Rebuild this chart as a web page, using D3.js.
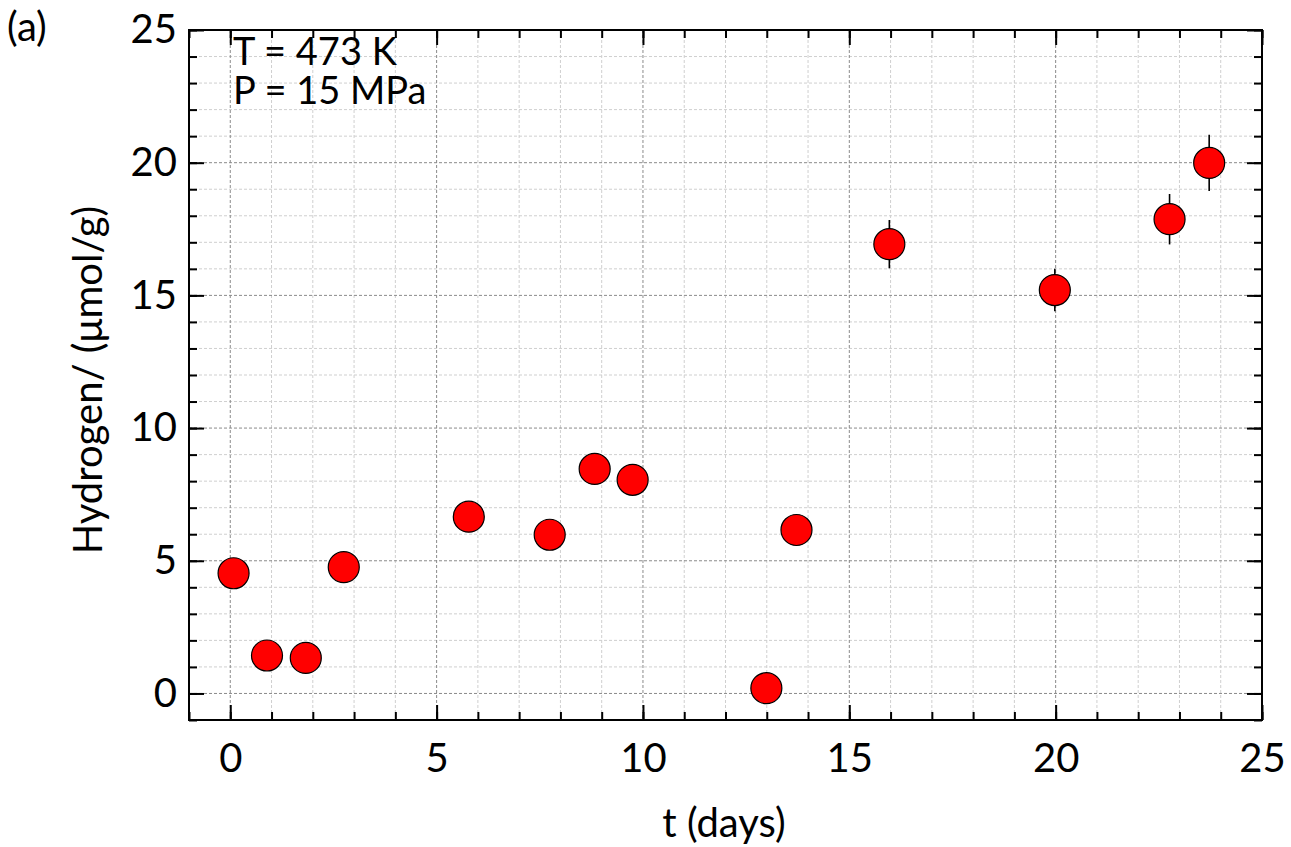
<!DOCTYPE html>
<html>
<head>
<meta charset="utf-8">
<script src="https://cdn.jsdelivr.net/npm/d3@7"></script>
<style>
  body { margin: 0; background: #fff; }
  text { font-family: Lato, "Open Sans", sans-serif; fill: #000; }
</style>
</head>
<body>
<div class="chart"></div>
<script>
// values
var days     = [0.08, 0.89, 1.83, 2.75, 5.78, 7.74, 8.83, 9.75, 12.99, 13.72, 15.97, 19.98, 22.76, 23.72];
var hydrogen = [4.53, 1.43, 1.34, 4.76, 6.66, 5.98, 8.46, 8.05, 0.20, 6.16, 16.93, 15.20, 17.87, 19.99];
var errors   = [0, 0, 0, 0, 0, 0, 0, 0, 0, 0, 0.91, 0.80, 0.95, 1.06];

var xTicks = [0, 5, 10, 15, 20, 25];
var yTicks = [0, 5, 10, 15, 20, 25];
var xMinor = d3.range(-1, 26, 1);
var yMinor = d3.range(-1, 26, 1);

var notes = ["T = 473 K", "P = 15 MPa"];

// Set the dimensions of the graph
var margin = {top: 30, right: 29, bottom: 127, left: 189},
    width = 1291 - margin.left - margin.right,
    height = 847 - margin.top - margin.bottom;

var x = d3.scaleLinear().domain([-1, 25]).range([0, width]);
var y = d3.scaleLinear().domain([-1, 25]).range([height, 0]);

var root = d3.select(".chart").append("svg")
    .attr("width", 1291)
    .attr("height", 847);

var svg = root.append("g")
    .attr("transform", "translate(" + margin.left + "," + margin.top + ")");

// minor grid
svg.append("g").selectAll("line")
  .data(xMinor.filter(function(d) { return d % 5 !== 0; }))
  .enter().append("line")
    .attr("x1", function(d) { return x(d); }).attr("x2", function(d) { return x(d); })
    .attr("y1", 0).attr("y2", height)
    .attr("stroke", "#cfcfcf").attr("stroke-dasharray", "3,2");
svg.append("g").selectAll("line")
  .data(yMinor.filter(function(d) { return d % 5 !== 0; }))
  .enter().append("line")
    .attr("y1", function(d) { return y(d); }).attr("y2", function(d) { return y(d); })
    .attr("x1", 0).attr("x2", width)
    .attr("stroke", "#cfcfcf").attr("stroke-dasharray", "3,2");

// major grid
svg.append("g").selectAll("line")
  .data(xTicks)
  .enter().append("line")
    .attr("x1", function(d) { return x(d); }).attr("x2", function(d) { return x(d); })
    .attr("y1", 0).attr("y2", height)
    .attr("stroke", "#8a8a8a").attr("stroke-dasharray", "3,2");
svg.append("g").selectAll("line")
  .data(yTicks)
  .enter().append("line")
    .attr("y1", function(d) { return y(d); }).attr("y2", function(d) { return y(d); })
    .attr("x1", 0).attr("x2", width)
    .attr("stroke", "#8a8a8a").attr("stroke-dasharray", "3,2");

// axes: ticks inward on all four sides
function styleAxis(g) {
  g.select(".domain").remove();
  g.selectAll(".tick line").attr("stroke", "#000").attr("stroke-width", 2);
  g.selectAll("text").style("font-size", "40px");
}

svg.append("g")
    .attr("transform", "translate(0," + height + ")")
    .call(d3.axisBottom(x).tickValues(xMinor).tickSize(-8).tickFormat(""))
    .call(styleAxis);
svg.append("g")
    .attr("transform", "translate(0," + height + ")")
    .call(d3.axisBottom(x).tickValues(xTicks).tickSize(-15).tickPadding(24).tickFormat(d3.format("d")))
    .call(styleAxis);
svg.append("g")
    .call(d3.axisTop(x).tickValues(xMinor).tickSize(-8).tickFormat(""))
    .call(styleAxis);
svg.append("g")
    .call(d3.axisTop(x).tickValues(xTicks).tickSize(-15).tickFormat(""))
    .call(styleAxis);

svg.append("g")
    .call(d3.axisLeft(y).tickValues(yMinor).tickSize(-8).tickFormat(""))
    .call(styleAxis);
svg.append("g")
    .call(d3.axisLeft(y).tickValues(yTicks).tickSize(-15).tickPadding(12).tickFormat(d3.format("d")))
    .call(styleAxis);
svg.append("g")
    .attr("transform", "translate(" + width + ",0)")
    .call(d3.axisRight(y).tickValues(yMinor).tickSize(-8).tickFormat(""))
    .call(styleAxis);
svg.append("g")
    .attr("transform", "translate(" + width + ",0)")
    .call(d3.axisRight(y).tickValues(yTicks).tickSize(-15).tickFormat(""))
    .call(styleAxis);

// frame
svg.append("rect")
    .attr("width", width).attr("height", height)
    .attr("fill", "none").attr("stroke", "#000").attr("stroke-width", 2);

var points = days.map(function(d, i) {
  return {t: d, h: hydrogen[i], e: errors[i]};
});

// error bars
svg.append("g").selectAll("line")
  .data(points.filter(function(d) { return d.e > 0; }))
  .enter().append("line")
    .attr("x1", function(d) { return x(d.t); }).attr("x2", function(d) { return x(d.t); })
    .attr("y1", function(d) { return y(d.h - d.e); })
    .attr("y2", function(d) { return y(d.h + d.e); })
    .attr("stroke", "#000").attr("stroke-width", 1.6);

// points
svg.append("g").selectAll("circle")
  .data(points)
  .enter().append("circle")
    .attr("cx", function(d) { return x(d.t); })
    .attr("cy", function(d) { return y(d.h); })
    .attr("r", 15.5)
    .attr("fill", "#ff0000")
    .attr("stroke", "#000")
    .attr("stroke-width", 1.2);

// annotation
svg.append("g").selectAll("text")
  .data(notes)
  .enter().append("text")
    .attr("x", 44)
    .attr("y", function(d, i) { return 35 + i * 39; })
    .style("font-size", "38px")
    .text(function(d) { return d; });

// axis labels
root.append("text")
    .attr("x", 724).attr("y", 837)
    .attr("text-anchor", "middle")
    .style("font-size", "40px")
    .text("t (days)");

root.append("text")
    .attr("transform", "translate(102,380) rotate(-90)")
    .attr("text-anchor", "middle")
    .style("font-size", "40px")
    .text("Hydrogen/ (μmol/g)");

// panel letters
root.append("text")
    .attr("x", 7).attr("y", 41)
    .style("font-size", "40px")
    .text("(a)");
root.append("text")
    .attr("x", 7).attr("y", 891)
    .style("font-size", "40px")
    .text("(b)");
</script>
</body>
</html>
